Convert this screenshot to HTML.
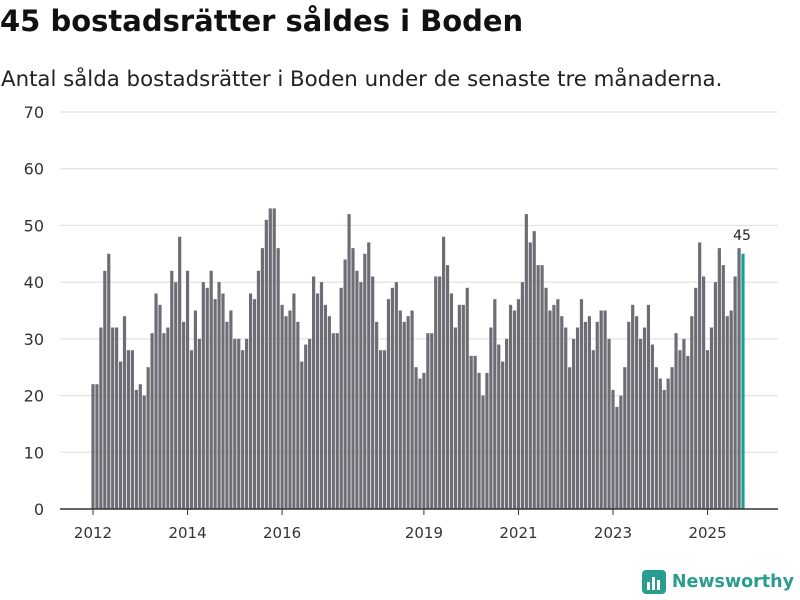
<!DOCTYPE html>
<html><head><meta charset="utf-8"><style>
body{margin:0;width:800px;height:600px;background:#fff;font-family:"DejaVu Sans",sans-serif;overflow:hidden;position:relative}
h1{position:absolute;left:0px;top:4px;margin:0;font-size:29px;font-weight:bold;color:#111;white-space:nowrap}
p.sub{position:absolute;left:1px;top:67px;margin:0;font-size:21.3px;color:#222;white-space:nowrap}
</style></head><body>
<h1>45 bostadsrätter såldes i Boden</h1>
<p class="sub">Antal sålda bostadsrätter i Boden under de senaste tre månaderna.</p>
<svg id="chart" width="800" height="600" style="position:absolute;left:0;top:0;font-family:'DejaVu Sans',sans-serif"></svg>
<div style="position:absolute;right:6px;top:570px;display:flex;align-items:center;gap:6px">
<svg width="24" height="24"><rect x="0" y="0" width="24" height="24" rx="4" fill="#2a9d8f"/><rect x="5" y="12" width="3" height="8" fill="#fff"/><rect x="10" y="7" width="3" height="13" fill="#fff"/><rect x="15" y="10" width="3" height="10" fill="#fff"/></svg>
<span style="font-size:17.5px;font-weight:bold;color:#2a9d8f;font-family:'DejaVu Sans',sans-serif">Newsworthy</span></div>
<script>
const values=[22,22,32,42,45,32,32,26,34,28,28,21,
22,20,25,31,38,36,31,32,42,40,48,33,
42,28,35,30,40,39,42,37,40,38,33,35,
30,30,28,30,38,37,42,46,51,53,53,46,
36,34,35,38,33,26,29,30,41,38,40,36,
34,31,31,39,44,52,46,42,40,45,47,41,
33,28,28,37,39,40,35,33,34,35,25,23,
24,31,31,41,41,48,43,38,32,36,36,39,
27,27,24,20,24,32,37,29,26,30,36,35,
37,40,52,47,49,43,43,39,35,36,37,34,
32,25,30,32,37,33,34,28,33,35,35,30,
21,18,20,25,33,36,34,30,32,36,29,25,
23,21,23,25,31,28,30,27,34,39,47,41,
28,32,40,46,43,34,35,41,46,45];
const yTicks=[0,10,20,30,40,50,60,70];
const xTickLabels=["2012","2014","2016","2019","2021","2023","2025"];
const xTickIndex=[0,24,48,84,108,132,156];
const svg=document.getElementById('chart');
const NS='http://www.w3.org/2000/svg';
const y=v=>509-v*(397/70);
const x=i=>93+i*(650/(values.length-1));
function mk(t,a){const e=document.createElementNS(NS,t);for(const k in a)e.setAttribute(k,a[k]);svg.appendChild(e);return e;}
yTicks.forEach(t=>{
 if(t>0){const g=mk('line',{x1:60,x2:778,y1:y(t),y2:y(t),stroke:'#ddd','stroke-width':1});
 
 }
 const l=mk('text',{x:44,y:y(t)+6,'text-anchor':'end','font-size':16,fill:'#333'});l.textContent=t;
 
 
});
values.forEach((v,i)=>{
 const last=i===values.length-1;
 const r=mk('rect',{x:x(i)-1.6,y:y(v),width:3.2,height:509-y(v),fill:last?'#1a9e96':'#6e6d75'});
 
 
});
const lv=values[values.length-1];
const lab=mk('text',{x:x(values.length-1)-1,y:y(lv)-14,'text-anchor':'middle','font-size':14,fill:'#222'});
lab.textContent=lv;


const ax=mk('line',{x1:60,x2:778,y1:509,y2:509,stroke:'#333','stroke-width':1.5});


xTickIndex.forEach((idx,k)=>{
 const tk=mk('line',{x1:x(idx),x2:x(idx),y1:509,y2:515,stroke:'#333'});
 
 
 const t=mk('text',{x:x(idx),y:538,'text-anchor':'middle','font-size':15,fill:'#333'});t.textContent=xTickLabels[k];
 
 
});
</script>
</body></html>
